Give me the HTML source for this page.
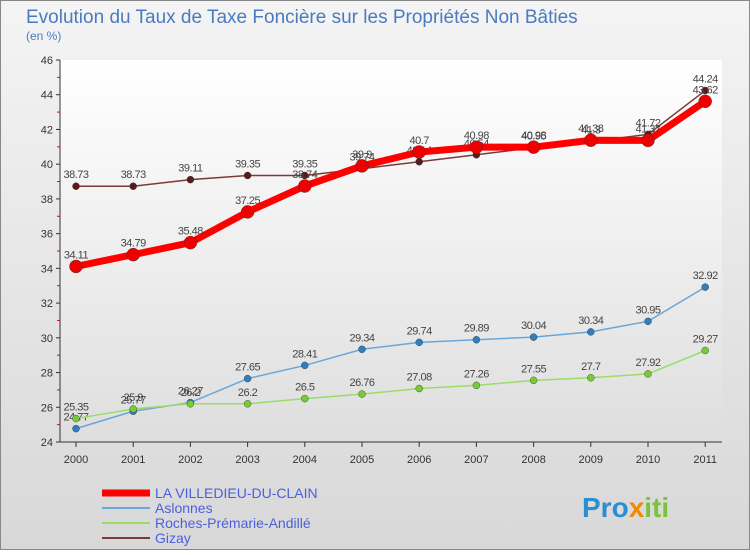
<!DOCTYPE html>
<html><head><meta charset="utf-8"><style>
body{margin:0;width:750px;height:550px;overflow:hidden;font-family:"Liberation Sans",sans-serif;}
</style></head><body>
<svg id="c" width="750" height="550" xmlns="http://www.w3.org/2000/svg">
<defs>
<linearGradient id="bg" x1="0" y1="0" x2="0" y2="1"><stop offset="0" stop-color="#f4f4f4"/><stop offset="1" stop-color="#d8d8d8"/></linearGradient>
<linearGradient id="pg" x1="0" y1="0" x2="0" y2="1"><stop offset="0" stop-color="#ffffff"/><stop offset="1" stop-color="#dedede"/></linearGradient>
</defs>
<rect x="0.5" y="0.5" width="749" height="549" fill="url(#bg)" stroke="#888"/>
<rect x="60" y="60" width="662" height="382" fill="url(#pg)"/>
<text x="26" y="23" font-size="19" fill="#4a7bbf">Evolution du Taux de Taxe Foncière sur les Propriétés Non Bâties</text>
<text x="26" y="40" font-size="12" fill="#4a7bbf">(en %)</text>
<g id="axes"></g>
<g id="series"></g>
<g id="legend"></g>
<text x="582" y="517" font-size="28" font-weight="bold" fill="#2a8fd0">Pro<tspan fill="#f08a00">x</tspan><tspan fill="#7cc23a">iti</tspan></text>
</svg>
<script>
const years=["2000","2001","2002","2003","2004","2005","2006","2007","2008","2009","2010","2011"];
const yTicks=[24,26,28,30,32,34,36,38,40,42,44,46];
const villedieu=[34.11,34.79,35.48,37.25,38.74,39.9,40.7,40.98,40.98,41.38,41.37,43.62];
const aslonnes=[24.77,25.77,26.27,27.65,28.41,29.34,29.74,29.89,30.04,30.34,30.95,32.92];
const roches=[25.35,25.9,26.2,26.2,26.5,26.76,27.08,27.26,27.55,27.7,27.92,29.27];
const gizay=[38.73,38.73,39.11,39.35,39.35,39.74,40.14,40.54,40.95,41.3,41.72,44.24];
const NS="http://www.w3.org/2000/svg";
const X=i=>76+i*57.2;
const Y=v=>442-(v-24)*(382/22);
function mk(tag,attrs,parent,txt){const e=document.createElementNS(NS,tag);for(const k in attrs)e.setAttribute(k,attrs[k]);if(txt!==undefined)e.textContent=txt;parent.appendChild(e);return e;}
const ax=document.getElementById('axes');
let e=mk('line',{x1:60,y1:60,x2:60,y2:442,stroke:'#333'},ax);


e=mk('line',{x1:60,y1:442,x2:722,y2:442,stroke:'#333'},ax);


yTicks.forEach(v=>{
 mk('line',{x1:56,y1:Y(v),x2:60,y2:Y(v),stroke:'#333'},ax);
 if(v<46) mk('line',{x1:57,y1:Y(v+1),x2:60,y2:Y(v+1),stroke:'#e00'},ax);
 e=mk('text',{x:53,y:Y(v)+4,'font-size':11,'text-anchor':'end',fill:'#333'},ax,String(v));
 
 
});
years.forEach((y,i)=>{
 mk('line',{x1:X(i),y1:442,x2:X(i),y2:447,stroke:'#333'},ax);
 e=mk('text',{x:X(i),y:463,'font-size':11,'text-anchor':'middle',fill:'#333'},ax,y);
 
 
});
const ser=document.getElementById('series');
const defs=[
 {name:'aslonnes',data:aslonnes,color:'#6aa6d8',pt:'#2f7fc0',w:1.5,r:3.5},
 {name:'roches',data:roches,color:'#99dd66',pt:'#77cc33',w:1.5,r:3.5},
 {name:'gizay',data:gizay,color:'#7a3a3a',pt:'#5a1a1a',w:1.5,r:3.5},
 {name:'villedieu',data:villedieu,color:'#ff0000',pt:'#ee0000',w:7,r:6.5}
];
defs.forEach(s=>{
 const g=mk('g',{},ser);
 
 
 const p=mk('polyline',{points:s.data.map((v,i)=>X(i)+','+Y(v)).join(' '),fill:'none',stroke:s.color,'stroke-width':s.w},g);
 
 
 s.data.forEach((v,i)=>{
  const c=mk('circle',{cx:X(i),cy:Y(v),r:s.r,fill:s.pt,stroke:'#333','stroke-width':0.4},g);
  
  
  const t=mk('text',{x:X(i),y:Y(v)-8,'font-size':11,'text-anchor':'middle',fill:'#444','letter-spacing':'-0.5'},g,String(v));
  
  
 });
});
const lg=document.getElementById('legend');
const legs=[["LA VILLEDIEU-DU-CLAIN","#ff0000",7],["Aslonnes","#6aa6d8",2],["Roches-Prémarie-Andillé","#99dd66",2],["Gizay","#7a3a3a",2]];
legs.forEach((l,i)=>{
 const y=493+i*15;
 const g=mk('g',{},lg);
 
 
 mk('line',{x1:102,y1:y,x2:150,y2:y,stroke:l[1],'stroke-width':l[2]},g);
 mk('text',{x:155,y:y+5,'font-size':14,fill:'#4a5fe0'},g,l[0]);
});
</script>
</body></html>
